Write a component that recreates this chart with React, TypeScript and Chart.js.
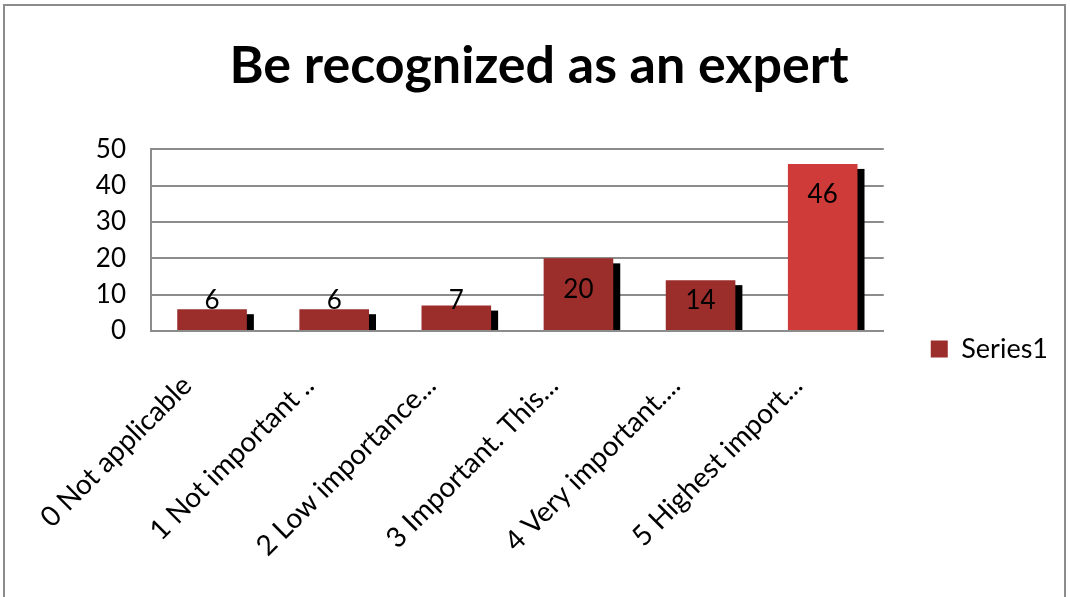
import React, { useEffect, useRef } from 'react';
import { Chart, registerables } from 'chart.js';

Chart.register(...registerables);

const TITLE = 'Be recognized as an expert';
const SERIES_NAME = 'Series1';
const CATEGORIES = [
  '0 Not applicable',
  '1 Not important ..',
  '2 Low importance...',
  '3 Important. This...',
  '4 Very important....',
  '5 Highest import...',
];
const VALUES = [6, 6, 7, 20, 14, 46];
const Y_MIN = 0;
const Y_MAX = 50;
const Y_STEP = 10;

const SERIES_COLOR = '#9B2D2B';
const HIGHLIGHT_COLOR = '#CF3B38';
const BAR_COLORS = VALUES.map((_, i) => (i === VALUES.length - 1 ? HIGHLIGHT_COLOR : SERIES_COLOR));
const GRID_COLOR = '#8c8c8c';
const FONT = 'Lato';

const shadowPlugin = {
  id: 'barShadow',
  beforeDatasetsDraw(chart: any) {
    const { ctx, chartArea } = chart;
    ctx.save();
    ctx.beginPath();
    ctx.rect(chartArea.left, chartArea.top, chartArea.right - chartArea.left, chartArea.bottom - chartArea.top);
    ctx.clip();
    ctx.fillStyle = '#000';
    chart.getDatasetMeta(0).data.forEach((el: any) => {
      const { x, y, base, width } = el.getProps(['x', 'y', 'base', 'width'], true);
      const top = y + 5;
      if (base > top) ctx.fillRect(x - width / 2 + 7, top, width, base - top);
    });
    ctx.restore();
  },
};

const labelPlugin = {
  id: 'barLabels',
  afterDatasetsDraw(chart: any) {
    const { ctx } = chart;
    ctx.save();
    ctx.font = `26px ${FONT}`;
    ctx.fillStyle = '#000';
    ctx.textAlign = 'center';
    ctx.textBaseline = 'middle';
    const values = chart.data.datasets[0].data;
    chart.getDatasetMeta(0).data.forEach((el: any, i: number) => {
      const { x, y, base } = el.getProps(['x', 'y', 'base'], true);
      const ly = Math.min(y + 31, base - 29);
      ctx.fillText(String(values[i]), x, ly);
    });
    ctx.restore();
  },
};

export default function App() {
  const ref = useRef<HTMLCanvasElement>(null);
  useEffect(() => {
    if (!ref.current) return;
    Chart.defaults.font.family = FONT;
    Chart.defaults.color = '#000';
    const chart = new Chart(ref.current, {
      type: 'bar',
      data: {
        labels: CATEGORIES,
        datasets: [
          {
            label: SERIES_NAME,
            data: VALUES,
            backgroundColor: BAR_COLORS,
            borderWidth: 0,
            barPercentage: 0.57,
            categoryPercentage: 1,
          },
        ],
      },
      options: {
        responsive: false,
        animation: false,
        layout: { padding: { left: 15, right: 6, top: 0, bottom: 0 } },
        plugins: {
          title: {
            display: true,
            text: TITLE,
            color: '#000',
            font: { family: FONT, size: 52, weight: 'bold' },
            padding: { top: 29, bottom: 52 },
          },
          legend: {
            display: true,
            position: 'right',
            labels: {
              boxWidth: 17,
              boxHeight: 17,
              padding: 47,
              color: '#000',
              font: { family: FONT, size: 27 },
              generateLabels: (c: any) =>
                Chart.defaults.plugins.legend.labels.generateLabels(c).map((l: any) => ({
                  ...l,
                  fillStyle: SERIES_COLOR,
                  strokeStyle: SERIES_COLOR,
                  lineWidth: 0,
                })),
            },
          },
          tooltip: { enabled: false },
        },
        scales: {
          x: {
            grid: { display: false, drawTicks: false },
            border: { display: true, color: GRID_COLOR, width: 2 },
            ticks: {
              autoSkip: false,
              minRotation: 45,
              maxRotation: 45,
              padding: 38,
              labelOffset: -25,
              color: '#000',
              font: { family: FONT, size: 28 },
            },
            afterFit: (scale: any) => {
              scale.height = 361;
              scale.paddingLeft = 0;
              scale.paddingRight = 0;
            },
          },
          y: {
            min: Y_MIN,
            max: Y_MAX,
            ticks: {
              stepSize: Y_STEP,
              padding: 25,
              color: '#000',
              font: { family: FONT, size: 26 },
            },
            grid: { color: GRID_COLOR, lineWidth: 2, drawTicks: false },
            border: { display: true, color: GRID_COLOR, width: 2 },
            afterFit: (scale: any) => {
              scale.width = 131;
            },
          },
        },
      },
      plugins: [shadowPlugin, labelPlugin],
    } as any);
    return () => chart.destroy();
  }, []);

  return (
    <div style={{ position: 'fixed', left: 0, top: 0, width: 1070, height: 597, overflow: 'hidden', background: '#fff' }}>
      <div
        style={{
          position: 'absolute',
          left: 3,
          top: 4,
          width: 1063,
          height: 690,
          border: '2px solid #8c8c8c',
          boxSizing: 'border-box',
          background: '#fff',
        }}
      >
        <canvas ref={ref} width={1059} height={686} style={{ display: 'block', width: 1059, height: 686 }} />
      </div>
    </div>
  );
}
